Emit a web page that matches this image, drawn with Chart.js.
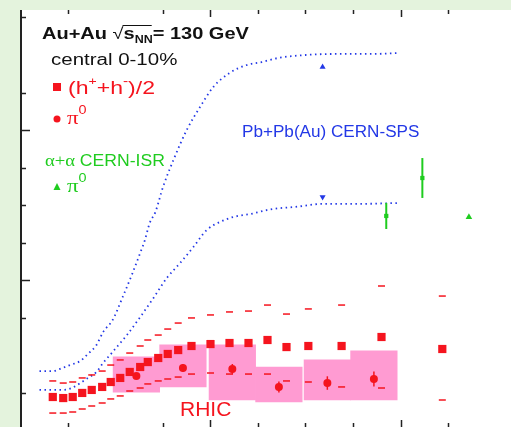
<!DOCTYPE html>
<html>
<head>
<meta charset="utf-8">
<script src="https://cdn.jsdelivr.net/npm/chart.js@4.4.0/dist/chart.umd.min.js"></script>
<style>
  html, body { margin: 0; padding: 0; background: #e4f3dd; }
  #raa { display: block; }
</style>
</head>
<body>
<canvas id="raa" width="511" height="427"></canvas>
<script>
// (h+ + h-)/2, Au+Au 130 GeV central
const hPt  = [0.34, 0.45, 0.55, 0.65, 0.75, 0.86, 0.95, 1.05, 1.15, 1.26, 1.34, 1.45, 1.55, 1.66, 1.80, 2.00, 2.20, 2.40, 2.60, 2.80, 3.03, 3.38, 3.80, 4.44];
const hRaa = [0.22, 0.213, 0.22, 0.247, 0.267, 0.287, 0.32, 0.347, 0.387, 0.42, 0.453, 0.48, 0.507, 0.533, 0.56, 0.573, 0.58, 0.58, 0.60, 0.553, 0.56, 0.56, 0.62, 0.54];
const hUp  = [0.327, 0.313, 0.32, 0.347, 0.367, 0.393, 0.433, 0.467, 0.513, 0.56, 0.60, 0.633, 0.673, 0.713, 0.747, 0.767, 0.787, 0.793, 0.833, 0.773, 0.807, 0.833, 0.96, 0.893];
const hLow = [0.113, 0.113, 0.12, 0.14, 0.16, 0.18, 0.207, 0.227, 0.26, 0.28, 0.307, 0.327, 0.34, 0.353, 0.373, 0.38, 0.373, 0.373, 0.373, 0.327, 0.32, 0.287, 0.28, 0.20];

// pi0, Au+Au 130 GeV central
const pi0Pt   = [1.22, 1.71, 2.23, 2.72, 3.23, 3.72];
const pi0Raa  = [0.36, 0.413, 0.407, 0.287, 0.313, 0.34];
const pi0Err  = [0.02, 0.027, 0.033, 0.037, 0.045, 0.05];
const pi0SysLow  = [0.253, 0.287, 0.20, 0.187, 0.20, 0.20];
const pi0SysHigh = [0.487, 0.567, 0.567, 0.42, 0.467, 0.527];

// Pb+Pb(Au) CERN-SPS band
const spsUpPt  = [0.20, 0.34, 0.44, 0.52, 0.63, 0.71, 0.80, 0.87, 0.97, 1.08, 1.18, 1.26, 1.31, 1.36, 1.42, 1.50, 1.61, 1.75, 1.89, 2.03, 2.20, 2.38, 2.54, 2.71, 3.00, 3.34, 3.70, 3.97];
const spsUpRaa = [0.393, 0.393, 0.413, 0.433, 0.46, 0.507, 0.567, 0.653, 0.733, 0.893, 1.047, 1.18, 1.267, 1.38, 1.453, 1.62, 1.80, 2.00, 2.153, 2.287, 2.38, 2.433, 2.453, 2.48, 2.50, 2.507, 2.507, 2.513];
const spsLowPt  = [0.20, 0.34, 0.45, 0.54, 0.63, 0.71, 0.80, 0.87, 0.96, 1.05, 1.12, 1.26, 1.40, 1.54, 1.68, 1.82, 1.96, 2.10, 2.24, 2.42, 2.65, 2.89, 3.17, 3.52, 3.97];
const spsLowRaa = [0.267, 0.267, 0.267, 0.28, 0.313, 0.347, 0.387, 0.447, 0.513, 0.58, 0.633, 0.753, 0.88, 1.013, 1.113, 1.22, 1.333, 1.387, 1.42, 1.44, 1.473, 1.487, 1.507, 1.507, 1.513];
const spsHiPt = [3.18];
const spsHiRaa = [2.42];
const spsLoPt = [3.18];
const spsLoRaa = [1.553];

// alpha+alpha CERN-ISR
const isrPt  = [3.85, 4.23];
const isrRaa = [1.427, 1.68];
const isrErr = [0.087, 0.133];
const isrPi0Pt  = [4.72];
const isrPi0Raa = [1.42];

// axis ranges and the tick marks visible in the picture
const xMin = -0.005, xMax = 5.163;
const yMin = 0.02, yMax = 2.8;
const xTicks = [0.5, 1.5, 2, 2.5, 3, 3.5, 4, 4.5];
const yTicks = [0.25, 0.75, 1, 1.25, 1.5, 1.75, 2, 2.25, 2.75];

const RED = '#f5141e';
const BLUE = '#2338e6';
const GREEN = '#1fcc1f';
const PINK = '#ff9bd2';
const SANS = '"Liberation Sans", Arial, sans-serif';
const SERIF = '"Liberation Serif", "Times New Roman", serif';

function pts(xs, ys) {
    return xs.map((x, i) => ({ x: x, y: ys[i] }));
}

// draws pieces of text one after another, stretched horizontally by sx
function richText(c, x, y, sx, color, parts) {
    c.save();
    c.translate(x, y);
    c.scale(sx, 1);
    c.fillStyle = color;
    let cx = 0;
    const spans = [];
    parts.forEach(p => {
        c.font = p[1];
        c.fillText(p[0], cx, p[2] || 0);
        const w = c.measureText(p[0]).width;
        spans.push([cx, w]);
        cx += w;
    });
    c.restore();
    return spans.map(s => [x + s[0] * sx, s[1] * sx]);
}

document.addEventListener('DOMContentLoaded', function () {
    const ctx = document.getElementById('raa').getContext('2d');

    // white plot area on the green page
    const framePlugin = {
        id: 'frame',
        beforeDraw(chart) {
            const c = chart.ctx, a = chart.chartArea;
            c.save();
            c.fillStyle = '#e4f3dd';
            c.fillRect(0, 0, chart.width, chart.height);
            c.fillStyle = '#ffffff';
            c.fillRect(a.left, a.top, a.right - a.left, a.bottom - a.top);
            c.restore();
        },
        afterDatasetsDraw(chart) {
            const c = chart.ctx, a = chart.chartArea;
            const xs = chart.scales.x, ys = chart.scales.y;
            c.save();

            // vertical error bars
            c.lineWidth = 1.5;
            c.strokeStyle = RED;
            pi0Pt.forEach((p, i) => {
                const px = xs.getPixelForValue(p);
                c.beginPath();
                c.moveTo(px, ys.getPixelForValue(pi0Raa[i] - pi0Err[i]));
                c.lineTo(px, ys.getPixelForValue(pi0Raa[i] + pi0Err[i]));
                c.stroke();
            });
            c.lineWidth = 2;
            c.strokeStyle = GREEN;
            isrPt.forEach((p, i) => {
                const px = xs.getPixelForValue(p);
                c.beginPath();
                c.moveTo(px, ys.getPixelForValue(isrRaa[i] - isrErr[i]));
                c.lineTo(px, ys.getPixelForValue(isrRaa[i] + isrErr[i]));
                c.stroke();
            });

            // axes and tick marks (pointing inside)
            c.strokeStyle = '#222';
            c.lineWidth = 2;
            c.beginPath();
            c.moveTo(a.left + 1, a.top);
            c.lineTo(a.left + 1, a.bottom);
            c.stroke();
            c.lineWidth = 1.5;
            yTicks.forEach(v => {
                const py = Math.round(ys.getPixelForValue(v)) + 0.5;
                const len = Number.isInteger(v) ? 8 : 4;
                c.beginPath();
                c.moveTo(a.left, py);
                c.lineTo(a.left + 2 + len, py);
                c.stroke();
            });
            xTicks.forEach(v => {
                const px = Math.round(xs.getPixelForValue(v)) + 0.5;
                const len = (v % 2 === 0) ? 7 : 4;
                c.beginPath();
                c.moveTo(px, a.top);
                c.lineTo(px, a.top + len);
                c.moveTo(px, a.bottom);
                c.lineTo(px, a.bottom - len);
                c.stroke();
            });
            c.restore();

            // labels
            c.save();
            c.textBaseline = 'alphabetic';
            const t = richText(c, 42, 39, 1.25, '#111', [
                ['Au+Au ', 'bold 16px ' + SANS],
                ['\u221A', '16px ' + SANS],
                ['s', 'bold 16px ' + SANS],
                ['NN', 'bold 10px ' + SANS, 4],
                ['= 130 GeV', 'bold 16px ' + SANS]
            ]);
            c.strokeStyle = '#111';
            c.lineWidth = 1;
            c.beginPath();
            c.moveTo(t[1][0] + t[1][1] - 1, 25.5);
            c.lineTo(t[3][0] + t[3][1] - 1, 25.5);
            c.stroke();

            richText(c, 51, 65, 1.28, '#111', [['central 0-10%', '16px ' + SANS]]);

            // legend: h
            c.fillStyle = RED;
            c.fillRect(53, 83, 8, 8);
            richText(c, 68, 94, 1.28, RED, [
                ['(h', '18px ' + SANS],
                ['+', '11px ' + SANS, -9],
                ['+h', '18px ' + SANS],
                ['-', '12px ' + SANS, -9],
                [')/2', '18px ' + SANS]
            ]);
            // legend: pi0
            c.fillStyle = RED;
            c.beginPath();
            c.arc(57, 119, 3.5, 0, Math.PI * 2);
            c.fill();
            richText(c, 67, 124, 1.2, RED, [
                ['\u03C0', '19px ' + SERIF],
                ['0', '12px ' + SANS, -10]
            ]);

            // alpha+alpha CERN-ISR
            richText(c, 45, 166, 1.1, GREEN, [
                ['\u03B1+\u03B1 ', '17px ' + SERIF],
                ['CERN-ISR', '16px ' + SANS]
            ]);
            c.fillStyle = GREEN;
            c.beginPath();
            c.moveTo(53.5, 190);
            c.lineTo(60.5, 190);
            c.lineTo(57, 183);
            c.closePath();
            c.fill();
            richText(c, 67, 192, 1.2, GREEN, [
                ['\u03C0', '19px ' + SERIF],
                ['0', '12px ' + SANS, -10]
            ]);

            richText(c, 242, 137, 1.07, BLUE, [['Pb+Pb(Au) CERN-SPS', '16px ' + SANS]]);
            richText(c, 180, 416, 1.0, RED, [['RHIC', '21px ' + SANS]]);
            c.restore();
        }
    };

    new Chart(ctx, {
        type: 'scatter',
        data: {
            datasets: [
                {
                    type: 'line', label: 'SPS upper', data: pts(spsUpPt, spsUpRaa),
                    borderColor: BLUE, borderWidth: 1.8, borderDash: [1.5, 3.5], pointRadius: 0,
                    cubicInterpolationMode: 'monotone', fill: false, order: 2
                },
                {
                    type: 'line', label: 'SPS lower', data: pts(spsLowPt, spsLowRaa),
                    borderColor: BLUE, borderWidth: 1.8, borderDash: [1.5, 3.5], pointRadius: 0,
                    cubicInterpolationMode: 'monotone', fill: false, order: 2
                },
                {
                    label: '(h+ + h-)/2', data: pts(hPt, hRaa),
                    pointStyle: 'rect', pointRadius: 5.8, backgroundColor: RED, borderWidth: 0, order: 1
                },
                {
                    label: 'h sys up', data: pts(hPt, hUp),
                    pointStyle: 'line', pointRadius: 3.5, borderColor: RED, borderWidth: 1.5, order: 1
                },
                {
                    label: 'h sys low', data: pts(hPt, hLow),
                    pointStyle: 'line', pointRadius: 3.5, borderColor: RED, borderWidth: 1.5, order: 1
                },
                {
                    label: 'pi0', data: pts(pi0Pt, pi0Raa),
                    pointStyle: 'circle', pointRadius: 4, backgroundColor: RED, borderWidth: 0, order: 1
                },
                {
                    type: 'bar', label: 'pi0 sys',
                    data: pi0Pt.map((p, i) => ({ x: p, y: [pi0SysLow[i], pi0SysHigh[i]] })),
                    backgroundColor: PINK, borderWidth: 0, barPercentage: 1, categoryPercentage: 1,
                    grouped: false, order: 5
                },
                {
                    label: 'SPS high', data: pts(spsHiPt, spsHiRaa),
                    pointStyle: 'triangle', pointRadius: 3.5, backgroundColor: BLUE, borderWidth: 0, order: 1
                },
                {
                    label: 'SPS low', data: pts(spsLoPt, spsLoRaa),
                    pointStyle: 'triangle', rotation: 180, pointRadius: 3.5, backgroundColor: BLUE, borderWidth: 0, order: 1
                },
                {
                    label: 'ISR', data: pts(isrPt, isrRaa),
                    pointStyle: 'rect', pointRadius: 3, backgroundColor: GREEN, borderWidth: 0, order: 1
                },
                {
                    label: 'ISR pi0', data: pts(isrPi0Pt, isrPi0Raa),
                    pointStyle: 'triangle', pointRadius: 3.8, backgroundColor: GREEN, borderWidth: 0, order: 1
                }
            ]
        },
        options: {
            responsive: false,
            animation: false,
            devicePixelRatio: 1,
            layout: { autoPadding: false, padding: { left: 20, top: 10, right: 0, bottom: 0 } },
            plugins: { legend: { display: false }, tooltip: { enabled: false } },
            scales: {
                x: { type: 'linear', min: xMin, max: xMax, display: false, offset: false },
                y: { type: 'linear', min: yMin, max: yMax, display: false }
            }
        },
        plugins: [framePlugin]
    });
});
</script>
</body>
</html>
